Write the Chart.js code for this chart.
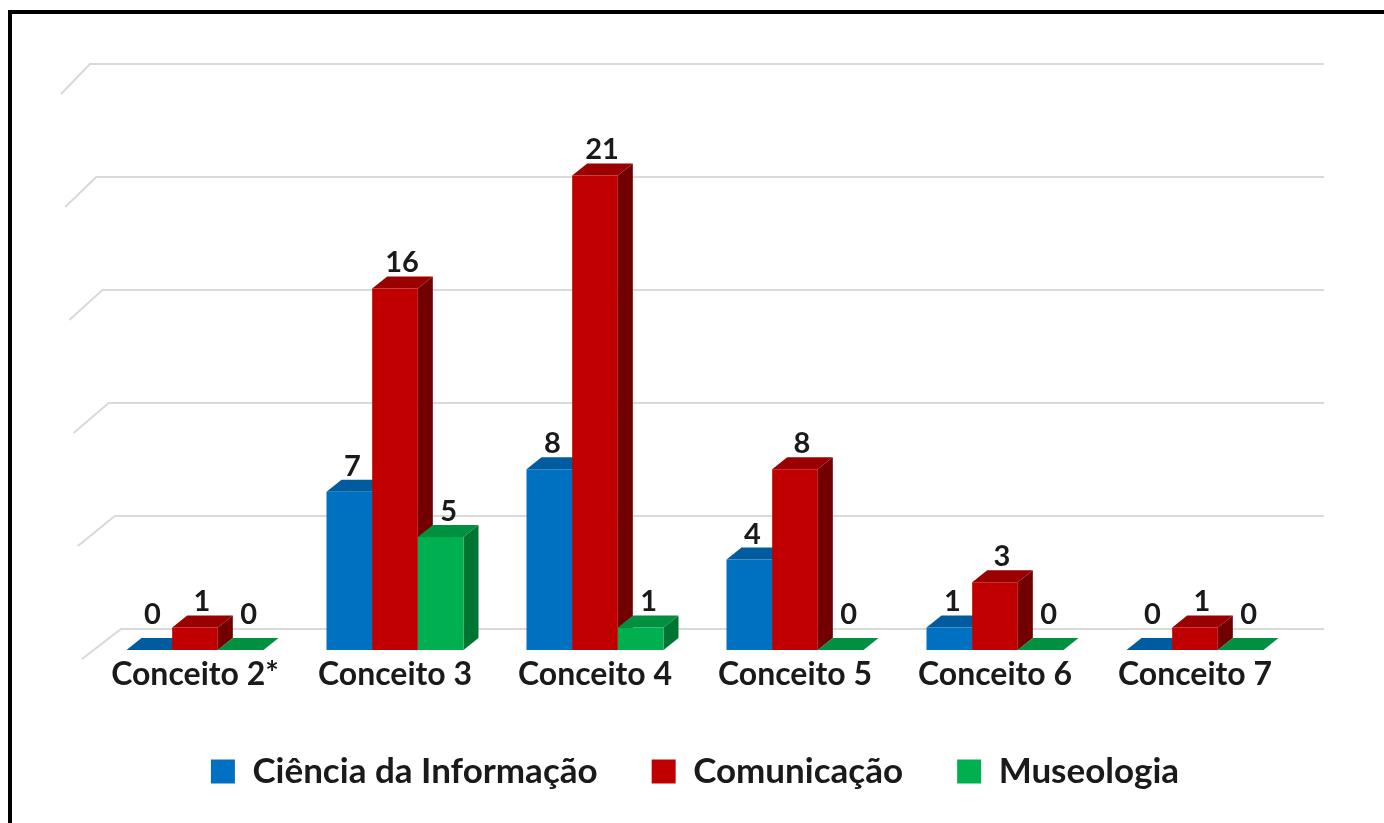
<!DOCTYPE html>
<html>
<head>
<meta charset="utf-8">
<script src="https://cdn.jsdelivr.net/npm/chart.js@4/dist/chart.umd.min.js"></script>
<style>
  html,body{margin:0;padding:0;background:#fff;overflow:hidden;}
  #frame{position:absolute;left:8px;top:10px;width:1400px;height:900px;border:4px solid #000;}
  #chart{position:absolute;left:0;top:0;}
</style>
</head>
<body>
<div id="frame"></div>
<canvas id="chart" width="1384" height="823"></canvas>
<script>
/* 3D-look grouped bars: Conceitos por área */
const categories = ['Conceito 2*','Conceito 3','Conceito 4','Conceito 5','Conceito 6','Conceito 7'];
const cienciaInfo = [0, 7, 8, 4, 1, 0];
const comunicacao = [1, 16, 21, 8, 3, 1];
const museologia  = [0, 5, 1, 0, 0, 0];
const seriesNames = ['Ciência da Informação','Comunicação','Museologia'];
const yMax = 25, yStep = 5;

const FONT = 'Lato, "Open Sans", sans-serif';
const front = ['#0070C0','#C00000','#00B050'];
const topc  = ['#005C9F','#9A0000','#00903F'];
const side  = ['#004E88','#730000','#007433'];
const labelShift = [3, 7, 8];
const DX = 15, DY = 12;   // depth offset of the bars

// back-wall grid + bar depth faces (drawn behind the front faces)
const depth3d = {
  id:'depth3d',
  beforeDatasetsDraw(chart){
    const {ctx, chartArea:a, scales:{y}} = chart;
    ctx.save();
    ctx.strokeStyle = '#d9d9d9';
    ctx.lineWidth = 2;
    const yTop = y.getPixelForValue(yMax), yBot = y.getPixelForValue(0);
    for(let v=0; v<=yMax; v+=yStep){
      const yf = y.getPixelForValue(v);
      const t = (yf-yTop)/(yBot-yTop);
      const fx = a.left-34 + t*21, bx = a.left-5 + t*31;
      ctx.beginPath();
      ctx.moveTo(fx, yf+9);
      ctx.lineTo(bx, yf-21);
      ctx.lineTo(a.right+29, yf-21);
      ctx.stroke();
    }
    chart.data.datasets.forEach((ds,i)=>{
      const meta = chart.getDatasetMeta(i);
      meta.data.forEach(bar=>{
        const l = bar.x-bar.width/2, r = bar.x+bar.width/2, t = bar.y, b = bar.base;
        ctx.fillStyle = side[i];
        ctx.beginPath();
        ctx.moveTo(r,t); ctx.lineTo(r+DX,t-DY); ctx.lineTo(r+DX,b-DY); ctx.lineTo(r,b);
        ctx.closePath(); ctx.fill();
        ctx.fillStyle = topc[i];
        ctx.beginPath();
        ctx.moveTo(l,t); ctx.lineTo(l+DX,t-DY); ctx.lineTo(r+DX,t-DY); ctx.lineTo(r,t);
        ctx.closePath(); ctx.fill();
      });
    });
    ctx.restore();
  },
  afterDatasetsDraw(chart){
    const {ctx} = chart;
    ctx.save();
    ctx.font = 'bold 29px ' + FONT;
    ctx.fillStyle = '#1a1a1a';
    ctx.textAlign = 'center';
    ctx.textBaseline = 'alphabetic';
    chart.data.datasets.forEach((ds,i)=>{
      chart.getDatasetMeta(i).data.forEach((bar,j)=>{
        const v = ds.data[j];
        ctx.fillText(String(v), bar.x+labelShift[i], bar.y-DY-(v===0?14:4));
      });
    });
    ctx.restore();
  }
};

const mk = (label, data, i) => ({
  label, data, backgroundColor: front[i], borderWidth:0,
  barPercentage:1, categoryPercentage:0.685
});

new Chart(document.getElementById('chart'), {
  type:'bar',
  data:{
    labels: categories,
    datasets:[
      mk(seriesNames[0], cienciaInfo, 0),
      mk(seriesNames[1], comunicacao, 1),
      mk(seriesNames[2], museologia, 2)
    ]
  },
  options:{
    responsive:false,
    animation:false,
    layout:{ padding:{ left:95, right:89, top:85, bottom:24 } },
    scales:{
      x:{
        grid:{ display:false, drawTicks:false }, border:{ display:false },
        ticks:{ color:'#1a1a1a', padding:9, font:{ family:FONT, size:32, weight:'bold', lineHeight:1 } }
      },
      y:{
        display:false, min:0, max:yMax,
        ticks:{ stepSize:yStep }
      }
    },
    plugins:{
      legend:{
        position:'bottom',
        labels:{
          boxWidth:24, boxHeight:24, padding:54, color:'#1a1a1a',
          font:{ family:FONT, size:35, weight:'bold' }
        }
      },
      tooltip:{ enabled:false }
    }
  },
  plugins:[depth3d]
});
</script>
</body>
</html>
